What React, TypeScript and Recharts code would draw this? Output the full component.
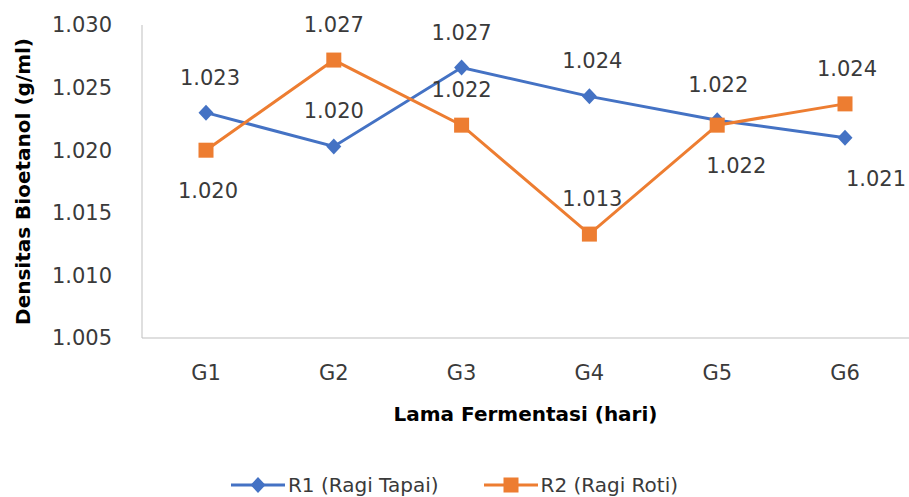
import React from 'react';
import { LineChart, Line, XAxis, YAxis, Legend, LabelList } from 'recharts';

const categories = ['G1', 'G2', 'G3', 'G4', 'G5', 'G6'];
const r1Values = [1.023, 1.0203, 1.0266, 1.0243, 1.0224, 1.021];
const r2Values = [1.02, 1.0272, 1.022, 1.0133, 1.022, 1.0237];
const yTicks = [1.005, 1.01, 1.015, 1.02, 1.025, 1.03];

// label placement per point (the labels in the original were nudged by hand)
const r1LabelSide = ['above', 'above', 'above', 'above', 'above', 'below'];
const r1LabelShift = [4, 0, 0, 3, 1, 31];
const r2LabelSide = ['below', 'above', 'above', 'above', 'below', 'above'];
const r2LabelShift = [2, 0, 0, 3, 19, 2];

const data = categories.map((name, i) => ({ name, r1: r1Values[i], r2: r2Values[i] }));

const FONT = 'DejaVu Sans';
const TEXT = '#3a3a3a';
const BLUE = '#4472C4';
const ORANGE = '#ED7D31';
const AXIS = '#bfbfbf';

const Diamond = ({ cx, cy, color }: { cx: number; cy: number; color: string }) => (
  <path d={`M${cx},${cy - 8}L${cx + 7.5},${cy}L${cx},${cy + 8}L${cx - 7.5},${cy}Z`} fill={color} />
);

const Square = ({ cx, cy, color }: { cx: number; cy: number; color: string }) => (
  <rect x={cx - 7.5} y={cy - 7.5} width={15} height={15} fill={color} />
);

const makeLabel = (sides: string[], shifts: number[]) => (props: any) => {
  const { x, y, value, index } = props;
  const side = sides[index];
  return (
    <text
      x={x + shifts[index]}
      y={y + (side === 'above' ? -35 : 41)}
      textAnchor="middle"
      dominantBaseline="central"
      fontFamily={FONT}
      fontSize={21}
      fill={TEXT}
    >
      {Number(value).toFixed(3)}
    </text>
  );
};

const series = [
  { name: 'R1 (Ragi Tapai)', color: BLUE, Marker: Diamond },
  { name: 'R2 (Ragi Roti)', color: ORANGE, Marker: Square },
];

const renderLegend = () => (
  <div
    style={{
      display: 'flex',
      justifyContent: 'center',
      alignItems: 'center',
      height: 24,
      fontFamily: FONT,
      fontSize: 20,
      color: TEXT,
    }}
  >
    {series.map((s, i) => (
      <div key={s.name} style={{ display: 'flex', alignItems: 'center', marginLeft: i ? 45 : 0 }}>
        <svg width={54} height={18}>
          <line x1={0} y1={9} x2={54} y2={9} stroke={s.color} strokeWidth={3} />
          <s.Marker cx={27} cy={9} color={s.color} />
        </svg>
        <span style={{ marginLeft: 3, lineHeight: '24px' }}>{s.name}</span>
      </div>
    ))}
  </div>
);

export default function App() {
  return (
    <div style={{ position: 'absolute', left: 0, top: 0, background: '#fff' }}>
      <LineChart width={909} height={497} data={data} margin={{ top: 25, right: 0, bottom: 0, left: 0 }}>
        <XAxis
          dataKey="name"
          height={135}
          padding={{ left: 64, right: 64 }}
          axisLine={{ stroke: AXIS, strokeWidth: 1 }}
          tickLine={false}
          tickSize={0}
          tickMargin={27}
          tick={{ fontSize: 21, fill: TEXT, fontFamily: FONT }}
          label={(p: any) => {
            const vb = p.viewBox;
            return (
              <text
                x={vb.x + vb.width / 2}
                y={vb.y + 76}
                textAnchor="middle"
                dominantBaseline="central"
                fontFamily={FONT}
                fontWeight="bold"
                fontSize={20}
                fill="#000"
              >
                Lama Fermentasi (hari)
              </text>
            );
          }}
        />
        <YAxis
          width={142}
          domain={[1.005, 1.03]}
          ticks={yTicks}
          tickFormatter={(v: number) => v.toFixed(3)}
          axisLine={{ stroke: AXIS, strokeWidth: 1 }}
          tickLine={false}
          tickSize={0}
          tickMargin={30}
          tick={{ fontSize: 21, fill: TEXT, fontFamily: FONT }}
          label={(p: any) => {
            const vb = p.viewBox;
            const cx = 23;
            const cy = vb.y + vb.height / 2;
            return (
              <text
                x={cx}
                y={cy}
                transform={`rotate(-90 ${cx} ${cy})`}
                textAnchor="middle"
                dominantBaseline="central"
                fontFamily={FONT}
                fontWeight="bold"
                fontSize={20}
                fill="#000"
              >
                Densitas Bioetanol (g/ml)
              </text>
            );
          }}
        />
        <Legend verticalAlign="bottom" height={24} content={renderLegend} />
        <Line
          dataKey="r1"
          name="R1 (Ragi Tapai)"
          stroke={BLUE}
          strokeWidth={3}
          isAnimationActive={false}
          dot={(p: any) => <Diamond key={`d1-${p.index}`} cx={p.cx} cy={p.cy} color={BLUE} />}
          activeDot={false}
        >
          <LabelList dataKey="r1" content={makeLabel(r1LabelSide, r1LabelShift)} />
        </Line>
        <Line
          dataKey="r2"
          name="R2 (Ragi Roti)"
          stroke={ORANGE}
          strokeWidth={3}
          isAnimationActive={false}
          dot={(p: any) => <Square key={`d2-${p.index}`} cx={p.cx} cy={p.cy} color={ORANGE} />}
          activeDot={false}
        >
          <LabelList dataKey="r2" content={makeLabel(r2LabelSide, r2LabelShift)} />
        </Line>
      </LineChart>
    </div>
  );
}
